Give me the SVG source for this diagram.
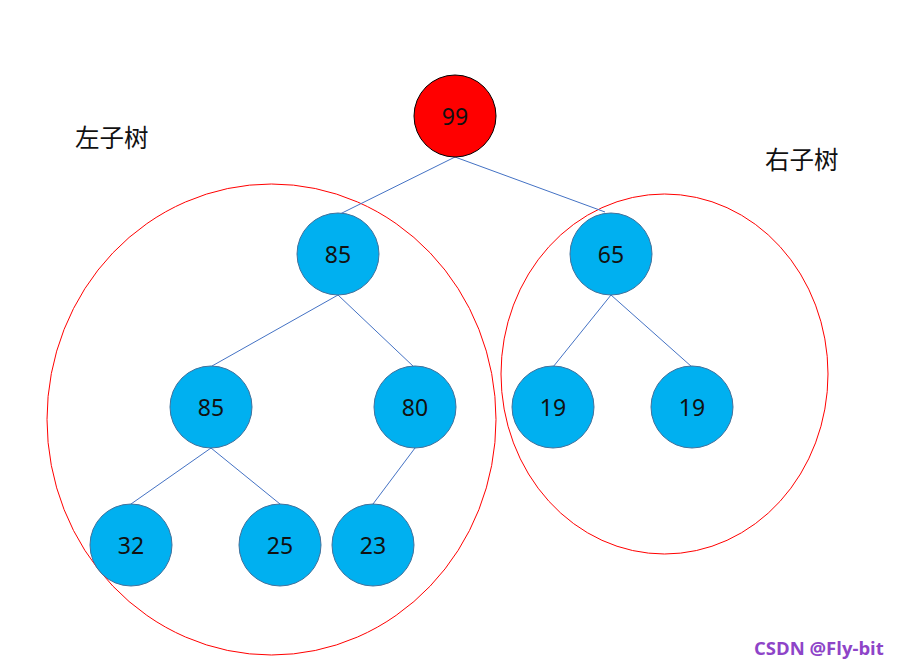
<svg xmlns="http://www.w3.org/2000/svg" width="897" height="670" viewBox="0 0 897 670">
<style>
.n{fill:#00B0F0;stroke:#41719C;stroke-width:1}
.r{fill:#FF0000;stroke:#000;stroke-width:1}
.t{font-family:"Noto Sans","Liberation Sans",sans-serif;font-size:23px;fill:#111;text-anchor:middle;dominant-baseline:central}
.e{stroke:#4472C4;stroke-width:1;fill:none}
.g{fill:none;stroke:#FF0000;stroke-width:1}
.c{font-family:"Noto Sans CJK SC",sans-serif;font-size:24.5px;fill:#111}
</style>
<rect width="897" height="670" fill="#fff"/>
<g id="groups">
<ellipse class="g" cx="271.5" cy="419.5" rx="224.5" ry="235.5"/>
<ellipse class="g" cx="664.5" cy="374" rx="163.5" ry="180"/>
</g>
<g id="connectors">
<line class="e" x1="455" y1="157" x2="340" y2="214"/>
<line class="e" x1="455" y1="157" x2="605" y2="212"/>
<line class="e" x1="338" y1="295" x2="212" y2="366"/>
<line class="e" x1="338" y1="295" x2="414" y2="367"/>
<line class="e" x1="611" y1="295" x2="553" y2="367"/>
<line class="e" x1="611" y1="295" x2="692" y2="367"/>
<line class="e" x1="211" y1="448" x2="131" y2="504"/>
<line class="e" x1="211" y1="448" x2="280" y2="504"/>
<line class="e" x1="415" y1="448" x2="373" y2="504"/>
</g>
<g id="n99"><circle class="r" cx="455" cy="116" r="41"/><text class="t" x="455" y="116">99</text></g>
<g id="n85a"><circle class="n" cx="338" cy="254" r="41"/><text class="t" x="338" y="254">85</text></g>
<g id="n65"><circle class="n" cx="611" cy="254" r="41"/><text class="t" x="611" y="254">65</text></g>
<g id="n85b"><circle class="n" cx="211" cy="407" r="41"/><text class="t" x="211" y="407">85</text></g>
<g id="n80"><circle class="n" cx="415" cy="407" r="41"/><text class="t" x="415" y="407">80</text></g>
<g id="n19a"><circle class="n" cx="553" cy="407" r="41"/><text class="t" x="553" y="407">19</text></g>
<g id="n19b"><circle class="n" cx="692" cy="407" r="41"/><text class="t" x="692" y="407">19</text></g>
<g id="n32"><circle class="n" cx="131" cy="545" r="41"/><text class="t" x="131" y="545">32</text></g>
<g id="n25"><circle class="n" cx="280" cy="545" r="41"/><text class="t" x="280" y="545">25</text></g>
<g id="n23"><circle class="n" cx="373" cy="545" r="41"/><text class="t" x="373" y="545">23</text></g>
<g id="labels">
<text class="c" x="75" y="147">左子树</text>
<text class="c" x="765" y="169">右子树</text>
<text x="754" y="655" font-family="'Open Sans','Noto Sans',sans-serif" font-size="18.5" font-weight="bold" fill="#8E44C8">CSDN @Fly-bit</text>
</g>
</svg>
